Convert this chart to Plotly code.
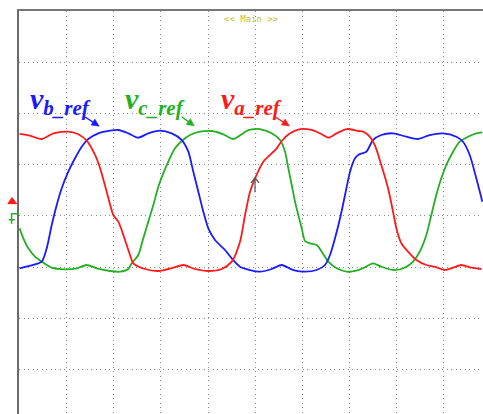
import math
import plotly.graph_objects as go

# time in divisions, voltage in divisions
t_a = [0.0, 0.221, 0.469, 0.716, 1.034, 1.246, 1.425, 1.601, 1.707, 1.849, 1.989, 2.096, 2.202, 2.344, 2.414,
       2.662, 2.945, 3.263, 3.476, 3.724, 4.006, 4.291, 4.503, 4.679, 4.786, 4.892, 4.998, 5.174, 5.316, 5.459,
       5.565, 5.741, 5.953, 6.202, 6.414, 6.554, 6.732, 6.945, 7.191, 7.291, 7.433, 7.539, 7.679, 7.822, 7.928,
       7.998, 8.104, 8.246, 8.423, 8.635, 8.813, 9.025, 9.202, 9.378, 9.590, 9.803]
v_a = [1.598, 1.564, 1.50, 1.611, 1.643, 1.592, 1.467, 1.188, 0.934, 0.471, 0.016, -0.115, -0.375, -0.766, -0.928,
       -1.039, -1.078, -1.014, -0.961, -1.039, -1.078, -1.039, -0.896, -0.506, 0.016, 0.471, 0.732, 1.057, 1.188, 1.318,
       1.461, 1.611, 1.695, 1.676, 1.592, 1.525, 1.611, 1.695, 1.656, 1.643, 1.545, 1.383, 0.992, 0.537, 0.080,
       -0.244, -0.537, -0.701, -0.863, -0.961, -0.994, -1.059, -1.014, -0.961, -1.014, -1.039]

t_b = [0.0, 0.221, 0.469, 0.575, 0.682, 0.788, 0.894, 1.034, 1.176, 1.318, 1.459, 1.671, 1.919, 2.096, 2.308,
       2.520, 2.732, 2.981, 3.229, 3.442, 3.582, 3.688, 3.794, 3.900, 4.006, 4.149, 4.361, 4.503, 4.679, 4.892,
       5.104, 5.352, 5.565, 5.811, 6.059, 6.308, 6.484, 6.590, 6.696, 6.803, 6.909, 7.015, 7.121, 7.212, 7.361,
       7.503, 7.679, 7.928, 8.210, 8.459, 8.707, 8.989, 9.272, 9.414, 9.556, 9.696, 9.824]
v_b = [-1.025, -0.975, -0.896, -0.635, -0.180, 0.211, 0.537, 0.861, 1.123, 1.350, 1.500, 1.611, 1.662, 1.676, 1.611,
       1.525, 1.611, 1.662, 1.611, 1.480, 1.252, 0.861, 0.471, 0.080, -0.244, -0.473, -0.668, -0.830, -0.994, -1.059,
       -1.092, -1.039, -0.961, -1.059, -1.092, -1.059, -0.961, -0.766, -0.439, -0.049, 0.406, 0.861, 1.123, 1.201, 1.252,
       1.480, 1.578, 1.611, 1.545, 1.500, 1.578, 1.611, 1.545, 1.447, 1.188, 0.732, 0.275]

t_c = [0.0, 0.079, 0.185, 0.327, 0.469, 0.682, 0.964, 1.212, 1.425, 1.637, 1.919, 2.132, 2.308, 2.380, 2.520,
       2.626, 2.732, 2.839, 2.945, 3.051, 3.157, 3.299, 3.442, 3.618, 3.830, 4.079, 4.325, 4.537, 4.749, 4.856,
       5.104, 5.352, 5.529, 5.635, 5.705, 5.777, 5.847, 5.917, 5.989, 6.059, 6.166, 6.308, 6.414, 6.554, 6.732,
       6.945, 7.191, 7.291, 7.503, 7.679, 7.928, 8.176, 8.352, 8.495, 8.635, 8.741, 8.847, 8.953, 9.059, 9.202,
       9.344, 9.520, 9.696, 9.824]
v_c = [-0.244, -0.439, -0.635, -0.799, -0.896, -1.014, -1.045, -1.025, -0.961, -1.025, -1.078, -1.092, -1.039, -0.928, -0.766,
       -0.439, -0.115, 0.211, 0.568, 0.830, 1.057, 1.318, 1.461, 1.578, 1.643, 1.656, 1.592, 1.500, 1.611, 1.676,
       1.695, 1.611, 1.480, 1.252, 0.928, 0.602, 0.275, 0.016, -0.244, -0.492, -0.537, -0.570, -0.701, -0.896, -1.025,
       -1.092, -1.059, -1.025, -0.928, -0.994, -1.059, -1.014, -0.896, -0.701, -0.375, 0.016, 0.406, 0.732, 0.992, 1.252,
       1.447, 1.545, 1.611, 1.631]

RED = "#ff1a1a"
BLUE = "#1a1aff"
GREEN = "#22b022"

X_RANGE = [-0.013, 9.838]
Y_RANGE = [-3.871, 4.0]
W, H = 483, 414
M = dict(l=19, r=0, t=11, b=0)
SX = (W - M["l"] - M["r"]) / (X_RANGE[1] - X_RANGE[0])   # px per x unit
SY = (H - M["t"] - M["b"]) / (Y_RANGE[1] - Y_RANGE[0])   # px per y unit

fig = go.Figure()
for t, v, c in [(t_c, v_c, GREEN), (t_b, v_b, BLUE), (t_a, v_a, RED)]:
    fig.add_trace(go.Scatter(x=t, y=v, mode="lines",
                             line=dict(color=c, width=1.8, shape="spline", smoothing=0.7),
                             hoverinfo="skip", showlegend=False))


def arrow(x0, y0, x1, y1, color, length=7.5, half=3.6, width=1.4):
    """Straight arrow from (x0,y0) to (x1,y1) in data coordinates with a filled head."""
    dx, dy = (x1 - x0) * SX, (y1 - y0) * SY
    n = math.hypot(dx, dy)
    ux, uy = dx / n, dy / n
    bx, by = -ux * length, -uy * length          # back from tip
    px, py = -uy * half, ux * half               # perpendicular
    bx_d, by_d = x1 + bx / SX, y1 + by / SY
    fig.add_shape(type="line", x0=x0, y0=y0, x1=bx_d + ux * 1 / SX, y1=by_d + uy * 1 / SY,
                  xref="x", yref="y", line=dict(color=color, width=width))
    path = "M {:.4f} {:.4f} L {:.4f} {:.4f} L {:.4f} {:.4f} Z".format(
        x1, y1, bx_d + px / SX, by_d + py / SY, bx_d - px / SX, by_d - py / SY)
    fig.add_shape(type="path", path=path, xref="x", yref="y",
                  fillcolor=color, line=dict(color=color, width=0.5))


labels = [("b_ref", BLUE, 0.18, 1.39, 1.93, 1.69, 1.75),
          ("c_ref", GREEN, 2.20, 3.44, 1.935, 3.71, 1.754),
          ("a_ref", RED, 4.235, 5.42, 1.935, 5.73, 1.754)]
for sub, col, xt, x0, y0, x1, y1 in labels:
    fig.add_annotation(x=xt, y=2.25, xref="x", yref="y", xanchor="left", yanchor="middle",
                       text="<b><i>v<sub>" + sub + "</sub></i></b>", showarrow=False,
                       font=dict(family="Liberation Serif", size=30, color=col))
    arrow(x0, y0, x1, y1, col)

# cursor marker (open chevron with stem)
cx, cy_top, cy_bot = 4.998, 0.74, 0.46
fig.add_shape(type="line", x0=cx, y0=cy_bot, x1=cx, y1=cy_top, xref="x", yref="y",
              line=dict(color="#555555", width=1.2))
fig.add_shape(type="path", xref="x", yref="y",
              path="M {:.4f} {:.4f} L {:.4f} {:.4f} L {:.4f} {:.4f}".format(
                  cx - 4 / SX, cy_top - 5 / SY, cx, cy_top, cx + 4 / SX, cy_top - 5 / SY),
              line=dict(color="#555555", width=1.3))

fig.add_annotation(x=0.5, y=1.0, xref="paper", yref="paper", xanchor="center", yanchor="top",
                   yshift=-1, text="&lt;&lt; Main &gt;&gt;", showarrow=False,
                   font=dict(family="DejaVu Sans Mono", size=9, color="#c8c030"))

# channel markers at the left
fig.add_shape(type="path", xref="paper", yref="paper",
              path="M -0.024 0.522 L -0.005 0.522 L -0.015 0.537 Z",
              fillcolor=RED, line=dict(color=RED, width=1))
fig.add_shape(type="path", xref="paper", yref="paper",
              path="M 0.0 0.497 L -0.016 0.497 L -0.016 0.482 M -0.022 0.482 L -0.009 0.482 M -0.016 0.482 L -0.016 0.472",
              line=dict(color=GREEN, width=1.5))

grid = dict(showgrid=True, gridcolor="#8a8a8a", gridwidth=1, griddash="1px,3.5px",
            zeroline=False, showticklabels=False, ticks="", dtick=1, tick0=0)

fig.update_layout(
    width=W, height=H,
    margin=M,
    paper_bgcolor="white", plot_bgcolor="white",
    xaxis=dict(range=X_RANGE, side="top", showline=True, linecolor="#777777",
               linewidth=2, **grid),
    yaxis=dict(range=Y_RANGE, showline=True, linecolor="#6a6a6a", linewidth=2, **grid),
)

# remove the default page margin and scrollbars so the figure fills the window exactly
fig.write_html("out.html", config={"displayModeBar": False}, post_script=(
    "document.body.style.margin='0';"
    "document.body.style.overflow='hidden';"
    "document.documentElement.style.overflow='hidden';"))
